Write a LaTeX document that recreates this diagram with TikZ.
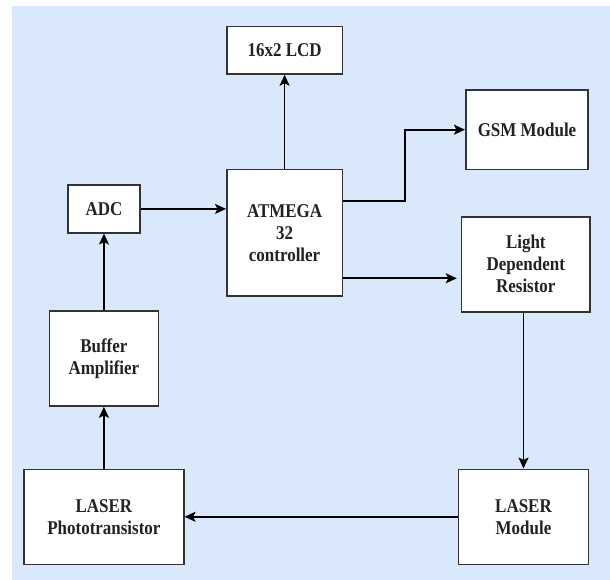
\documentclass[tikz,border=0pt]{standalone}
\usepackage{fontspec}
\setmainfont{Liberation Serif}[FakeStretch=0.87]
\usetikzlibrary{arrows.meta,calc}
\definecolor{bgblue}{HTML}{DAE8FC}
\definecolor{boxline}{HTML}{333333}
\definecolor{txt}{HTML}{222222}
\begin{document}
\begin{tikzpicture}[x=1pt,y=-1pt,
  blk/.style={draw=boxline,line width=1.6pt,fill=white,inner sep=0pt,align=center,
    text=txt,font=\fontsize{19.5}{22}\selectfont\bfseries},
  conn/.style={line width=1.7pt,-{Stealth[length=11pt,width=10pt,inset=2.5pt]}}]
\useasboundingbox (0,0) rectangle (610,580);
\fill[bgblue] (12,6) rectangle (610,580);
\node[blk,minimum width=115.6pt,minimum height=47.3pt] (lcd) at (284.6,50.3) {16x2 LCD};
\node[blk,minimum width=122.5pt,minimum height=79.3pt] (gsm) at (527,129.7) {GSM Module};
\node[blk,minimum width=115.6pt,minimum height=126.7pt] (atm) at (284.6,232.7) {ATMEGA\\32\\controller};
\node[blk,minimum width=72pt,minimum height=47.7pt] (adc) at (104,208.9) {ADC};
\node[blk,minimum width=128.5pt,minimum height=95pt] (ldr) at (525.8,264.2) {Light\\Dependent\\Resistor};
\node[blk,minimum width=109pt,minimum height=95pt] (buf) at (103.9,358.5) {Buffer\\Amplifier};
\node[blk,minimum width=159.7pt,minimum height=95pt] (pht) at (103.9,516.8) {LASER\\Phototransistor};
\node[blk,minimum width=130pt,minimum height=95pt] (mod) at (523.5,516.8) {LASER\\Module};
\coordinate (gsmturn) at (404.7,200.7);
\draw[conn] (atm.north) -- (lcd.south);
\draw[conn] ([yshift=32pt]atm.east) -- (gsmturn) |- (gsm.west);
\draw[conn] (adc.east) -- (adc.east -| atm.west);
\draw[conn,shorten >=4pt] ([yshift=-45.6pt]atm.east) -- ([yshift=-45.6pt]atm.east -| ldr.west);
\draw[conn] (mod.north |- ldr.south) -- (mod.north);
\draw[conn] (mod.west) -- (pht.east);
\draw[conn] (pht.north) -- (buf.south);
\draw[conn] (buf.north) -- (adc.south);
\end{tikzpicture}
\end{document}
